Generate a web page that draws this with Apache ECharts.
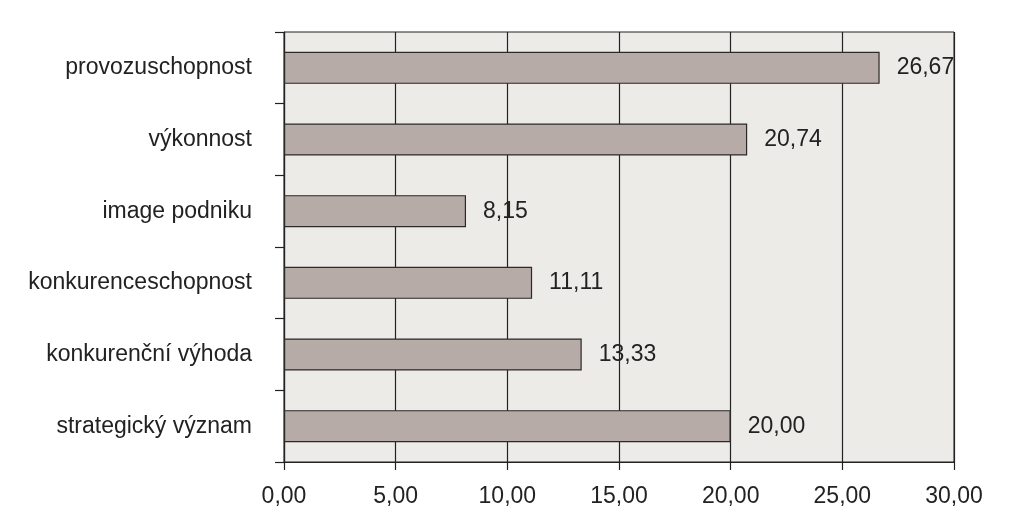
<!DOCTYPE html>
<html>
<head>
<meta charset="utf-8">
<script src="https://cdn.jsdelivr.net/npm/echarts@6/dist/echarts.min.js"></script>
<style>html,body{margin:0;padding:0;background:#fff;}#c{width:1024px;height:515px;}</style>
</head>
<body>
<div id="c"></div>
<script>
const categories = ['provozuschopnost', 'výkonnost', 'image podniku', 'konkurenceschopnost', 'konkurenční výhoda', 'strategický význam'];
const values = [26.67, 20.74, 8.15, 11.11, 13.33, 20.00];
const axisMin = 0, axisMax = 30, axisStep = 5;

const fmt = v => Number(v).toFixed(2).replace('.', ',');
const FONT = 'Liberation Sans, Arial, sans-serif';
const chart = echarts.init(document.getElementById('c'));
chart.setOption({
  animation: false,
  backgroundColor: '#ffffff',
  grid: {
    left: 284, right: 70, top: 32, bottom: 53,
    show: true, backgroundColor: '#ecebe8', borderColor: '#222', borderWidth: 1
  },
  xAxis: {
    type: 'value', min: axisMin, max: axisMax, interval: axisStep,
    axisLine: { show: true, lineStyle: { color: '#222', width: 1.2 } },
    axisTick: { show: true, length: 8, lineStyle: { color: '#222', width: 1.2 } },
    axisLabel: { formatter: fmt, color: '#222', fontSize: 23, fontFamily: FONT, margin: 23 },
    splitLine: { show: true, lineStyle: { color: '#222', width: 1.2 } }
  },
  yAxis: {
    type: 'category', data: categories, inverse: true,
    axisLine: { show: true, lineStyle: { color: '#222', width: 1.2 } },
    axisTick: { show: true, length: 9, lineStyle: { color: '#222', width: 1.2 } },
    axisLabel: { color: '#222', fontSize: 23, fontFamily: FONT, margin: 32 },
    splitLine: { show: false }
  },
  series: [{
    type: 'bar',
    data: values,
    barWidth: 32,
    itemStyle: { color: '#b6aba6', borderColor: '#2a2a2a', borderWidth: 1.2 },
    label: {
      show: true, position: 'right', distance: 17, formatter: p => fmt(p.value),
      color: '#222', fontSize: 23, fontFamily: FONT
    }
  }]
});
</script>
</body>
</html>
